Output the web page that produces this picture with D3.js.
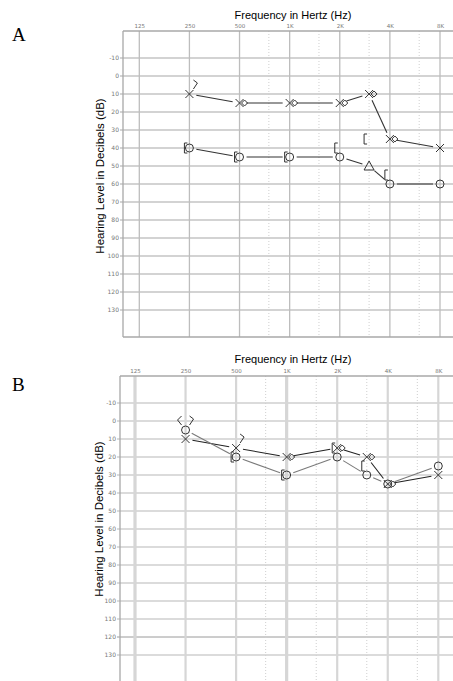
<!DOCTYPE html>
<html>
<head>
<meta charset="utf-8">
<script src="https://cdn.jsdelivr.net/npm/d3@7"></script>
<style>
  body { margin: 0; background: #fff; }
  svg { display: block; }
  .tick text { font-family: "DejaVu Sans", sans-serif; }
</style>
</head>
<body>
<script>
//axis values
var freqs = [125, 250, 500, 1000, 2000, 4000, 8000];
var freqLabels = ["125", "250", "500", "1K", "2K", "4K", "8K"];
var halfFreqs = [750, 1500, 3000, 6000];
var dbTicks = [-10, 0, 10, 20, 30, 40, 50, 60, 70, 80, 90, 100, 110, 120, 130];

//panel A values (dB HL)
var aFreqs = [250, 500, 1000, 2000, 3000, 4000, 8000];
var aLeftAir = [10, 15, 15, 15, 10, 35, 40];
var aRightAir = [40, 45, 45, 45, 50, 60, 60];
var aRightAirSym = ["O", "O", "O", "O", "T", "O", "O"];
var aLeftBoneFreqs = [500, 1000, 2000, 3000, 4000];
var aLeftBone = [15, 15, 15, 10, 35];
var aLeftBoneOffFreqs = [250];
var aLeftBoneOff = [5];
var aRightMaskFreqs = [250, 500, 1000, 2000, 3000, 4000];
var aRightMask = [40, 45, 45, 40, 35, 55];

//panel B values (dB HL)
var bFreqs = [250, 500, 1000, 2000, 3000, 4000, 8000];
var bLeftAir = [10, 15, 20, 15, 20, 35, 30];
var bRightAir = [5, 20, 30, 20, 30, 35, 25];
var bRightAirSym = ["O", "O", "O", "O", "O", "O", "O"];
var bLeftBoneFreqs = [1000, 2000, 3000, 4000];
var bLeftBone = [20, 15, 20, 35];
var bLeftBoneOffFreqs = [250, 500];
var bLeftBoneOff = [0, 10];
var bRightBoneFreqs = [250];
var bRightBone = [0];
var bRightMaskFreqs = [500, 1000, 2000, 3000];
var bRightMask = [20, 30, 15, 25];

var width = 453, height = 681;

var svg = d3.select("body")
    .append("svg")
    .attr("width", width)
    .attr("height", height);

drawPanel({
    letter: "A", letterY: 41,
    left: 123, top: 31, bottom: 337, x125: 139.3, x8k: 440,
    titleY: 19, yTitleX: 104, yTitleY: 176,
    vMain: "#bdbdbd", vMainW: 1.3, vThick: [], hColor: "#c4c4c4", hW: 1.3, hDark: [],
    bottomBorder: true,
    leftLineColor: "#333", rightLineColor: "#333",
    freqsData: aFreqs, leftAir: aLeftAir, rightAir: aRightAir, rightSym: aRightAirSym,
    leftBoneFreqs: aLeftBoneFreqs, leftBone: aLeftBone,
    leftBoneOffFreqs: aLeftBoneOffFreqs, leftBoneOff: aLeftBoneOff,
    rightBoneFreqs: [], rightBone: [],
    rightMaskFreqs: aRightMaskFreqs, rightMask: aRightMask
});

drawPanel({
    letter: "B", letterY: 391,
    left: 120, top: 376, bottom: 682, x125: 135, x8k: 438.3,
    titleY: 363, yTitleX: 103, yTitleY: 519,
    vMain: "#d6d6d6", vMainW: 2.2, vThick: [125, 1000], hColor: "#cfcfcf", hW: 1.4, hDark: [120],
    bottomBorder: false,
    leftLineColor: "#222", rightLineColor: "#7a7a7a",
    freqsData: bFreqs, leftAir: bLeftAir, rightAir: bRightAir, rightSym: bRightAirSym,
    leftBoneFreqs: bLeftBoneFreqs, leftBone: bLeftBone,
    leftBoneOffFreqs: bLeftBoneOffFreqs, leftBoneOff: bLeftBoneOff,
    rightBoneFreqs: bRightBoneFreqs, rightBone: bRightBone,
    rightMaskFreqs: bRightMaskFreqs, rightMask: bRightMask
});

function drawPanel(p){
    var x = d3.scaleLog().base(2)
        .domain([125, 8000])
        .range([p.x125, p.x8k]);
    var y = d3.scaleLinear()
        .domain([-25, 145])
        .range([p.top, p.bottom]);
    var right = width + 5;

    var g = svg.append("g");

    //panel letter
    svg.append("text")
        .attr("x", 12).attr("y", p.letterY)
        .style("font-family", "'Liberation Serif', serif")
        .style("font-size", "19px")
        .text(p.letter);

    //titles
    g.append("text")
        .attr("x", 293).attr("y", p.titleY)
        .attr("text-anchor", "middle")
        .style("font-family", "'Liberation Sans', Arial, sans-serif")
        .style("font-size", "11px")
        .text("Frequency in Hertz (Hz)");

    g.append("text")
        .attr("transform", "translate(" + p.yTitleX + "," + p.yTitleY + ") rotate(-90)")
        .attr("text-anchor", "middle")
        .style("font-family", "'Liberation Sans', Arial, sans-serif")
        .style("font-size", "11.5px")
        .text("Hearing Level in Decibels (dB)");

    //horizontal grid
    g.selectAll(".hgrid")
        .data(dbTicks)
        .enter().append("line")
        .attr("x1", p.left - 3).attr("x2", right)
        .attr("y1", function(d){ return y(d); })
        .attr("y2", function(d){ return y(d); })
        .attr("stroke", function(d){ return p.hDark.indexOf(d) >= 0 ? "#9a9a9a" : p.hColor; })
        .attr("stroke-width", function(d){ return p.hDark.indexOf(d) >= 0 ? 1 : p.hW; });

    //half-octave dotted lines
    g.selectAll(".half")
        .data(halfFreqs)
        .enter().append("line")
        .attr("x1", function(d){ return x(d); })
        .attr("x2", function(d){ return x(d); })
        .attr("y1", p.top).attr("y2", p.bottom)
        .attr("stroke", "#cfcfcf")
        .attr("stroke-width", 1)
        .attr("stroke-dasharray", "1,2");

    //octave lines
    g.selectAll(".oct")
        .data(freqs)
        .enter().append("line")
        .attr("x1", function(d){ return x(d); })
        .attr("x2", function(d){ return x(d); })
        .attr("y1", p.top).attr("y2", p.bottom)
        .attr("stroke", p.vMain)
        .attr("stroke-width", function(d){ return p.vThick.indexOf(d) >= 0 ? 3.2 : p.vMainW; });

    //frame
    g.append("line")
        .attr("x1", p.left).attr("x2", right)
        .attr("y1", p.top).attr("y2", p.top)
        .attr("stroke", "#a8a8a8").attr("stroke-width", 1.3);
    g.append("line")
        .attr("x1", p.left).attr("x2", p.left)
        .attr("y1", p.top).attr("y2", p.bottom)
        .attr("stroke", "#a8a8a8").attr("stroke-width", 1.3);
    if (p.bottomBorder){
        g.append("line")
            .attr("x1", p.left).attr("x2", right)
            .attr("y1", p.bottom).attr("y2", p.bottom)
            .attr("stroke", "#a8a8a8").attr("stroke-width", 1.3);
    }

    //axis labels
    var yAxis = d3.axisLeft(y)
        .tickValues(dbTicks)
        .tickSize(0)
        .tickPadding(4)
        .tickFormat(function(d){ return d; });
    var ya = g.append("g")
        .attr("transform", "translate(" + p.left + ",0)")
        .call(yAxis);
    ya.select(".domain").remove();
    ya.selectAll("text").attr("fill", "#777").style("font-size", "6px");

    var xAxis = d3.axisTop(x)
        .tickValues(freqs)
        .tickSize(0)
        .tickPadding(3)
        .tickFormat(function(d, i){ return freqLabels[i]; });
    var xa = g.append("g")
        .attr("transform", "translate(0," + p.top + ")")
        .call(xAxis);
    xa.select(".domain").remove();
    xa.selectAll("text").attr("fill", "#777").style("font-size", "5.5px");

    //connecting lines with gaps round the symbols
    drawLine(g, x, y, p.freqsData, p.leftAir, p.leftLineColor);
    drawLine(g, x, y, p.freqsData, p.rightAir, p.rightLineColor);

    var sym = g.append("g")
        .attr("fill", "none")
        .attr("stroke", "#333")
        .attr("stroke-width", 1);

    //right air: circles / triangle
    p.freqsData.forEach(function(f, i){
        var cx = x(f), cy = y(p.rightAir[i]);
        if (p.rightSym[i] === "T"){
            sym.append("path")
                .attr("d", "M" + cx + "," + (cy - 5) + "L" + (cx + 5) + "," + (cy + 4) + "L" + (cx - 5) + "," + (cy + 4) + "Z");
        } else {
            sym.append("circle").attr("cx", cx).attr("cy", cy).attr("r", 4);
        }
    });

    //left air: crosses
    p.freqsData.forEach(function(f, i){
        var cx = x(f), cy = y(p.leftAir[i]);
        sym.append("path")
            .attr("d", "M" + (cx - 4) + "," + (cy - 4) + "L" + (cx + 4) + "," + (cy + 4) +
                       "M" + (cx + 4) + "," + (cy - 4) + "L" + (cx - 4) + "," + (cy + 4));
    });

    //left bone beside the cross
    p.leftBoneFreqs.forEach(function(f, i){
        var cx = x(f) + 5, cy = y(p.leftBone[i]);
        sym.append("path")
            .attr("d", "M" + (cx - 3) + "," + cy + "L" + cx + "," + (cy - 3) + "L" + (cx + 3) + "," + cy +
                       "L" + cx + "," + (cy + 3) + "Z");
    });

    //left bone drawn off to the right
    p.leftBoneOffFreqs.forEach(function(f, i){
        var cx = x(f) + 6, cy = y(p.leftBoneOff[i]);
        sym.append("path")
            .attr("d", "M" + (cx - 2) + "," + (cy - 5) + "L" + (cx + 2) + "," + (cy - 2) + "L" + (cx - 2) + "," + (cy + 4));
    });

    //right bone unmasked
    p.rightBoneFreqs.forEach(function(f, i){
        var cx = x(f) - 6, cy = y(p.rightBone[i]);
        sym.append("path")
            .attr("d", "M" + (cx + 2) + "," + (cy - 5) + "L" + (cx - 2) + "," + (cy - 1) + "L" + (cx + 2) + "," + (cy + 4));
    });

    //right bone masked: brackets
    p.rightMaskFreqs.forEach(function(f, i){
        var cx = x(f) - 4, cy = y(p.rightMask[i]);
        sym.append("path")
            .attr("d", "M" + (cx + 2) + "," + (cy - 5) + "L" + (cx - 1) + "," + (cy - 5) + "L" + (cx - 1) + "," + (cy + 5) +
                       "L" + (cx + 2) + "," + (cy + 5));
    });
}

function drawLine(g, x, y, fs, vals, color){
    var gap = 7;
    for (var i = 0; i < fs.length - 1; i++){
        var x1 = x(fs[i]), y1 = y(vals[i]), x2 = x(fs[i + 1]), y2 = y(vals[i + 1]);
        var dx = x2 - x1, dy = y2 - y1, len = Math.sqrt(dx * dx + dy * dy);
        if (len < 2 * gap + 2) continue;
        g.append("line")
            .attr("x1", x1 + dx / len * gap).attr("y1", y1 + dy / len * gap)
            .attr("x2", x2 - dx / len * gap).attr("y2", y2 - dy / len * gap)
            .attr("stroke", color)
            .attr("stroke-width", 1.1);
    }
}
</script>
</body>
</html>
